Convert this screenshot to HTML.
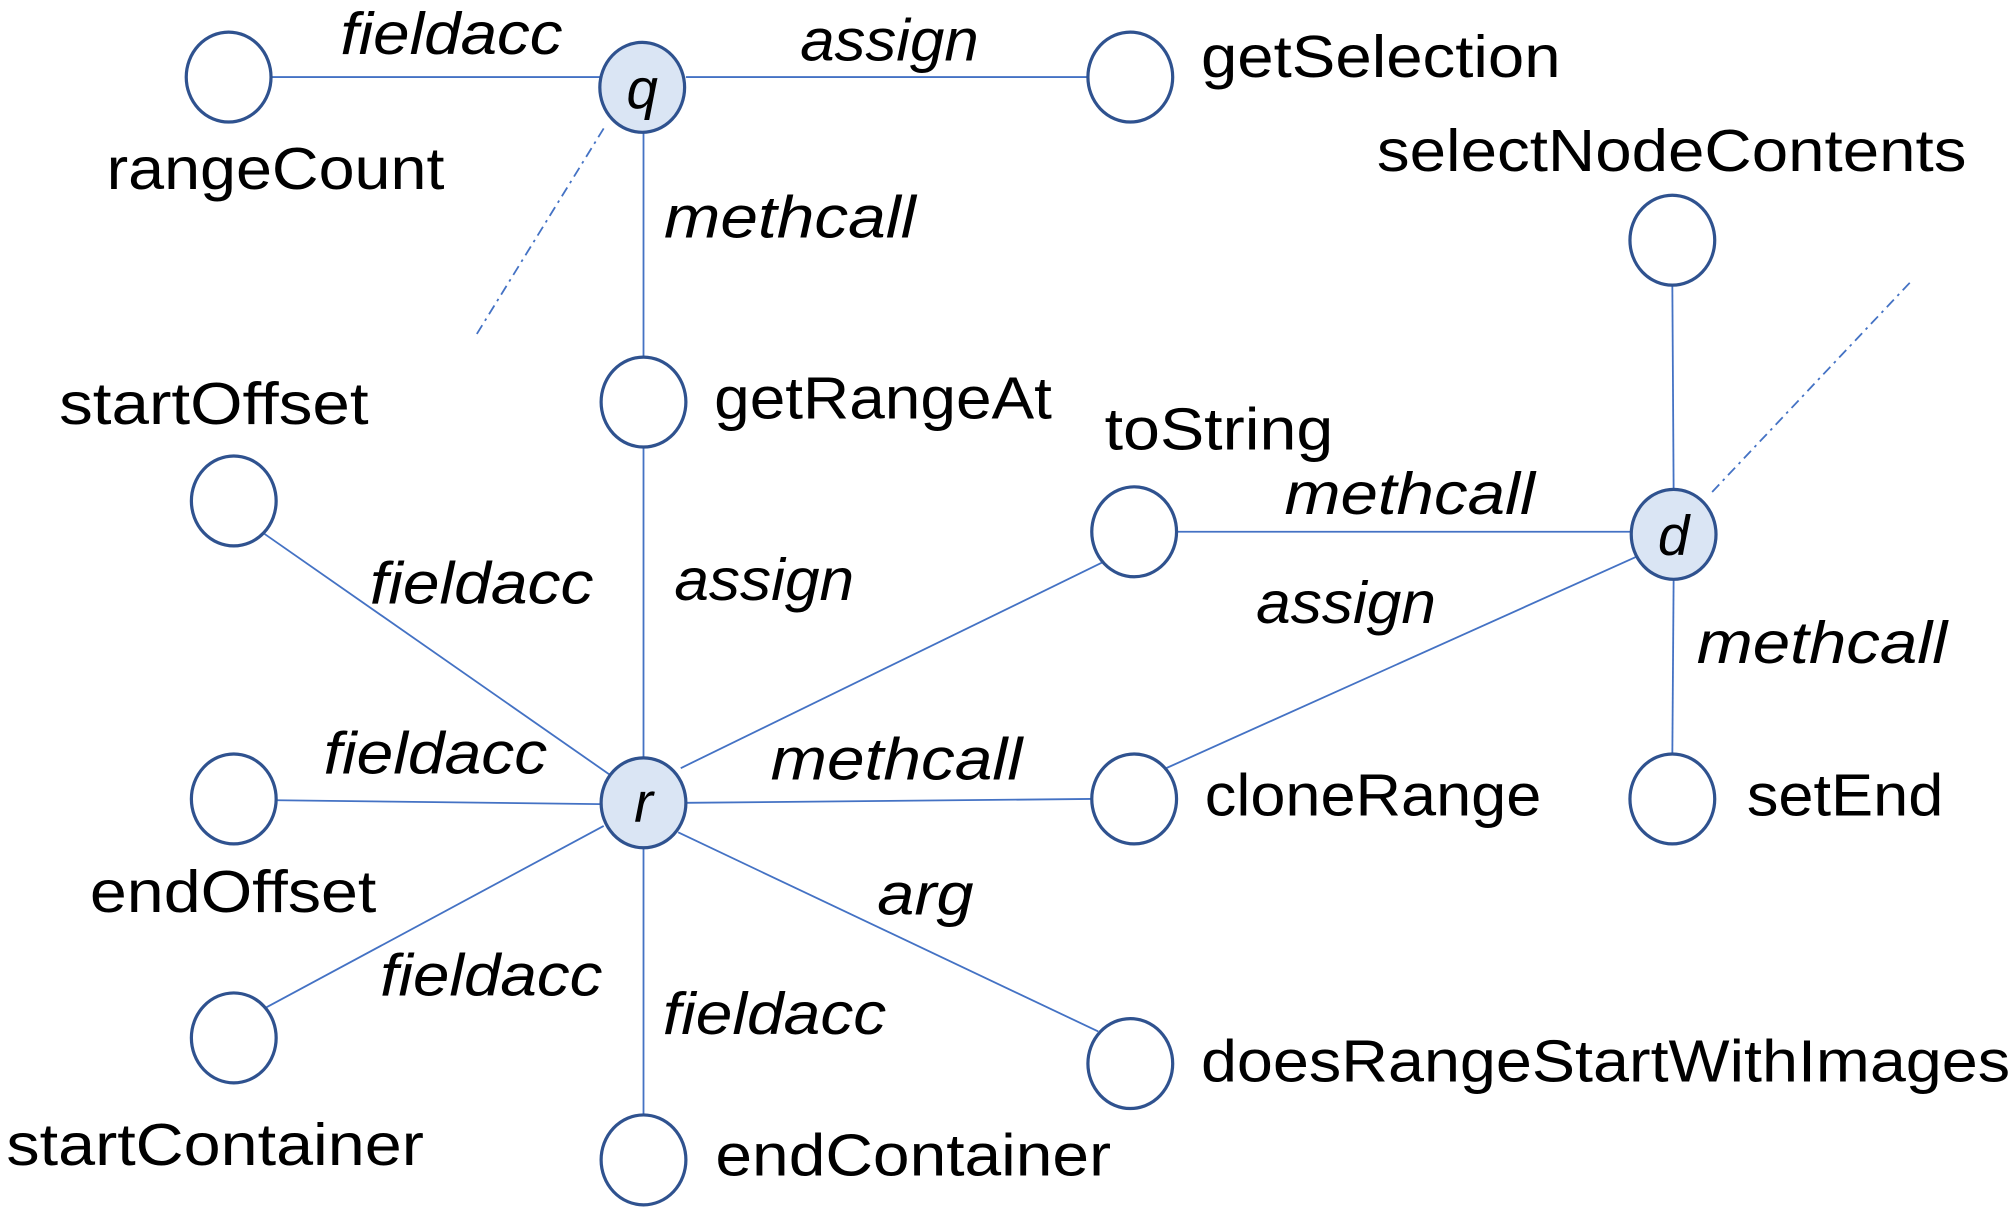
<!DOCTYPE html>
<html><head><meta charset="utf-8"><style>html,body{margin:0;padding:0;background:#fff}svg{display:block}</style></head>
<body>
<svg width="2014" height="1210" viewBox="0 0 1568 942" preserveAspectRatio="none" xmlns="http://www.w3.org/2000/svg">
<g stroke="#4472c4" stroke-width="1.4" fill="none">
<line x1="211" y1="60" x2="467" y2="60"/>
<line x1="534" y1="60" x2="847" y2="60"/>
<line x1="501" y1="103" x2="501" y2="278"/>
<line x1="501" y1="348" x2="501" y2="590"/>
<line x1="205" y1="415" x2="476" y2="604"/>
<line x1="216" y1="623" x2="467" y2="626"/>
<line x1="206" y1="785" x2="470" y2="643"/>
<line x1="501" y1="660" x2="501" y2="868"/>
<line x1="528" y1="648" x2="855" y2="803"/>
<line x1="535" y1="625" x2="849" y2="622"/>
<line x1="530" y1="598" x2="858" y2="438"/>
<line x1="917" y1="414" x2="1270" y2="414"/>
<line x1="908" y1="598" x2="1275" y2="433"/>
<line x1="1302" y1="222" x2="1303" y2="381"/>
<line x1="1303" y1="451" x2="1302" y2="587"/>
<line x1="470" y1="100" x2="370" y2="262" stroke-dasharray="8,4,2,4"/>
<line x1="1333" y1="383" x2="1487" y2="220" stroke-dasharray="8,4,2,4"/>
</g>
<g stroke="#2f528f" stroke-width="2.5" fill="#fff">
<ellipse cx="178" cy="60" rx="33" ry="35"/>
<ellipse cx="880" cy="60" rx="33" ry="35"/>
<ellipse cx="501" cy="313" rx="33" ry="35"/>
<ellipse cx="182" cy="390" rx="33" ry="35"/>
<ellipse cx="883" cy="414" rx="33" ry="35"/>
<ellipse cx="1302" cy="187" rx="33" ry="35"/>
<ellipse cx="182" cy="622" rx="33" ry="35"/>
<ellipse cx="883" cy="622" rx="33" ry="35"/>
<ellipse cx="1302" cy="622" rx="33" ry="35"/>
<ellipse cx="182" cy="808" rx="33" ry="35"/>
<ellipse cx="880" cy="828" rx="33" ry="35"/>
<ellipse cx="501" cy="903" rx="33" ry="35"/>
<ellipse cx="500" cy="68" rx="33" ry="35" fill="#dae5f4"/>
<ellipse cx="501" cy="625" rx="33" ry="35" fill="#dae5f4"/>
<ellipse cx="1303" cy="416" rx="33" ry="35" fill="#dae5f4"/>
</g>
<g font-family="Liberation Sans, sans-serif" font-size="46" fill="#000" lengthAdjust="spacingAndGlyphs">
<text x="500" y="84" text-anchor="middle" font-style="italic" font-size="44">q</text>
<text x="501" y="640" text-anchor="middle" font-style="italic" font-size="44">r</text>
<text x="1303" y="432" text-anchor="middle" font-style="italic" font-size="44">d</text>
<g font-style="italic">
<text x="265" y="42" textLength="173" lengthAdjust="spacingAndGlyphs">fieldacc</text>
<text x="623" y="47" textLength="139" lengthAdjust="spacingAndGlyphs">assign</text>
<text x="517" y="185" textLength="196" lengthAdjust="spacingAndGlyphs">methcall</text>
<text x="1000" y="400" textLength="195" lengthAdjust="spacingAndGlyphs">methcall</text>
<text x="288" y="470" textLength="174" lengthAdjust="spacingAndGlyphs">fieldacc</text>
<text x="525" y="467" textLength="140" lengthAdjust="spacingAndGlyphs">assign</text>
<text x="978" y="485" textLength="140" lengthAdjust="spacingAndGlyphs">assign</text>
<text x="1321" y="516" textLength="195" lengthAdjust="spacingAndGlyphs">methcall</text>
<text x="252" y="602" textLength="174" lengthAdjust="spacingAndGlyphs">fieldacc</text>
<text x="600" y="607" textLength="196" lengthAdjust="spacingAndGlyphs">methcall</text>
<text x="683" y="712" textLength="75" lengthAdjust="spacingAndGlyphs">arg</text>
<text x="296" y="775" textLength="173" lengthAdjust="spacingAndGlyphs">fieldacc</text>
<text x="516" y="805" textLength="174" lengthAdjust="spacingAndGlyphs">fieldacc</text>
</g>
<text x="935" y="60" textLength="280" lengthAdjust="spacingAndGlyphs">getSelection</text>
<text x="83" y="147" textLength="263" lengthAdjust="spacingAndGlyphs">rangeCount</text>
<text x="1072" y="133" textLength="459" lengthAdjust="spacingAndGlyphs">selectNodeContents</text>
<text x="46" y="330" textLength="241" lengthAdjust="spacingAndGlyphs">startOffset</text>
<text x="556" y="326" textLength="263" lengthAdjust="spacingAndGlyphs">getRangeAt</text>
<text x="860" y="350" textLength="178" lengthAdjust="spacingAndGlyphs">toString</text>
<text x="938" y="635" textLength="262" lengthAdjust="spacingAndGlyphs">cloneRange</text>
<text x="1360" y="635" textLength="153" lengthAdjust="spacingAndGlyphs">setEnd</text>
<text x="70" y="710" textLength="223" lengthAdjust="spacingAndGlyphs">endOffset</text>
<text x="935" y="842" textLength="630" lengthAdjust="spacingAndGlyphs">doesRangeStartWithImages</text>
<text x="5" y="907" textLength="325" lengthAdjust="spacingAndGlyphs">startContainer</text>
<text x="557" y="915" textLength="308" lengthAdjust="spacingAndGlyphs">endContainer</text>
</g>
</svg>
</body></html>
